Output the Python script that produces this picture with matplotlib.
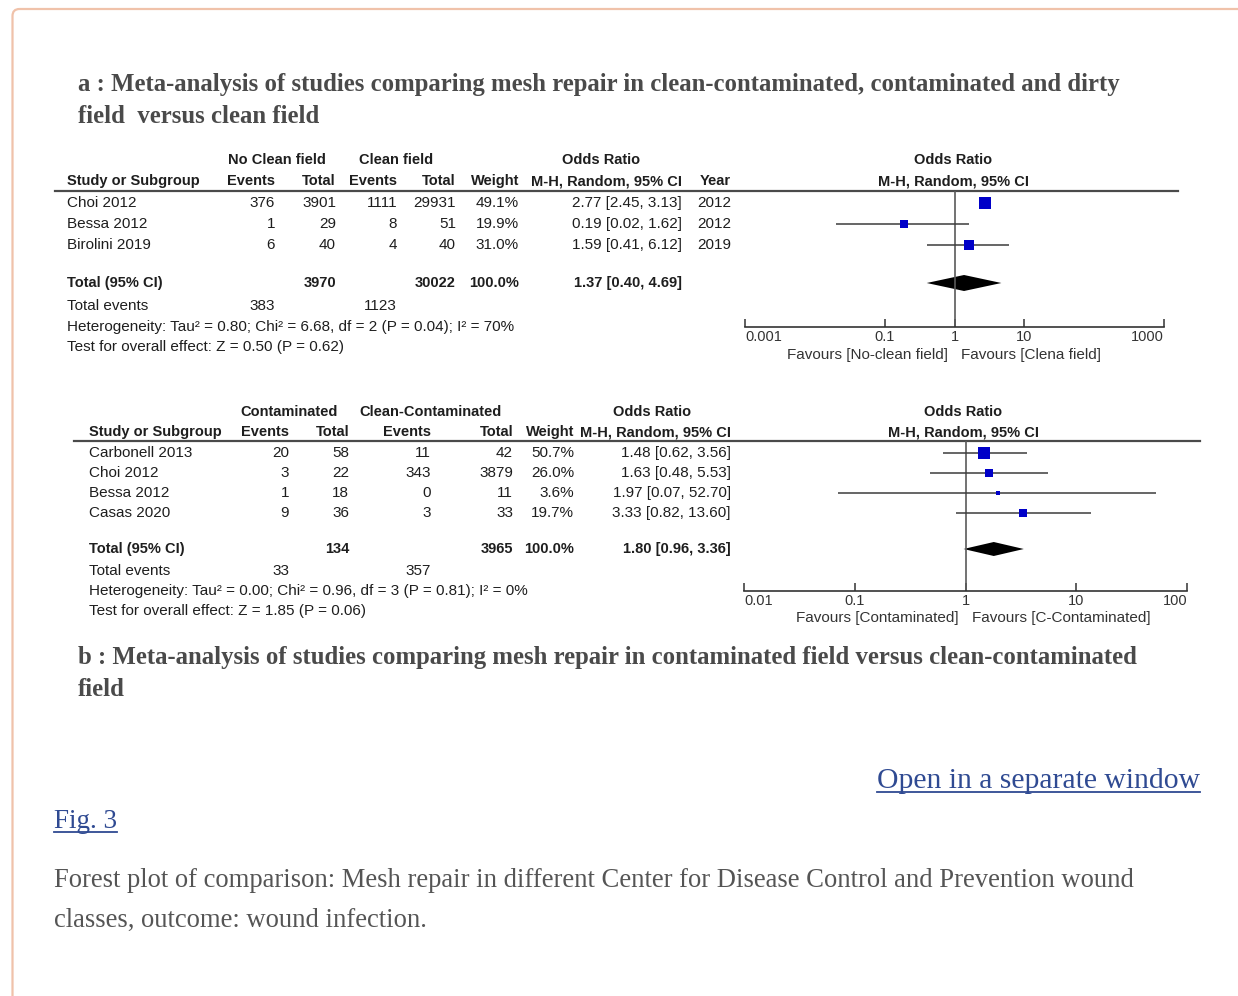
import numpy as np
import matplotlib.pyplot as plt
from matplotlib.patches import FancyBboxPatch

W, H = 1238, 996

# panel a : no clean field vs clean field
a_studies = ["Choi 2012", "Bessa 2012", "Birolini 2019"]
a_ev1 = [376, 1, 6]
a_tot1 = [3901, 29, 40]
a_ev2 = [1111, 8, 4]
a_tot2 = [29931, 51, 40]
a_weight = [49.1, 19.9, 31.0]
a_or = [2.77, 0.19, 1.59]
a_lo = [2.45, 0.02, 0.41]
a_hi = [3.13, 1.62, 6.12]
a_year = [2012, 2012, 2019]
a_totals = [3970, 30022]
a_events = [383, 1123]
a_pooled = [1.37, 0.40, 4.69]
a_groups = ["No Clean field", "Clean field"]
a_het = "Heterogeneity: Tau² = 0.80; Chi² = 6.68, df = 2 (P = 0.04); I² = 70%"
a_test = "Test for overall effect: Z = 0.50 (P = 0.62)"
a_favours = ["Favours [No-clean field]", "Favours [Clena field]"]
a_ticks = [0.001, 0.1, 1, 10, 1000]
a_ticklabels = ["0.001", "0.1", "1", "10", "1000"]

# panel b : contaminated vs clean-contaminated
b_studies = ["Carbonell 2013", "Choi 2012", "Bessa 2012", "Casas 2020"]
b_ev1 = [20, 3, 1, 9]
b_tot1 = [58, 22, 18, 36]
b_ev2 = [11, 343, 0, 3]
b_tot2 = [42, 3879, 11, 33]
b_weight = [50.7, 26.0, 3.6, 19.7]
b_or = [1.48, 1.63, 1.97, 3.33]
b_lo = [0.62, 0.48, 0.07, 0.82]
b_hi = [3.56, 5.53, 52.70, 13.60]
b_totals = [134, 3965]
b_events = [33, 357]
b_pooled = [1.80, 0.96, 3.36]
b_groups = ["Contaminated", "Clean-Contaminated"]
b_het = "Heterogeneity: Tau² = 0.00; Chi² = 0.96, df = 3 (P = 0.81); I² = 0%"
b_test = "Test for overall effect: Z = 1.85 (P = 0.06)"
b_favours = ["Favours [Contaminated]", "Favours [C-Contaminated]"]
b_ticks = [0.01, 0.1, 1, 10, 100]
b_ticklabels = ["0.01", "0.1", "1", "10", "100"]

title_a = ["a : Meta-analysis of studies comparing mesh repair in clean-contaminated, contaminated and dirty",
           "field  versus clean field"]
title_b = ["b : Meta-analysis of studies comparing mesh repair in contaminated field versus clean-contaminated",
           "field"]
caption = ["Forest plot of comparison: Mesh repair in different Center for Disease Control and Prevention wound",
           "classes, outcome: wound infection."]

SANS = "Liberation Sans"
SERIF = "Liberation Serif"
TXT = "#1e1e1e"
FS = 11
FSB = 10.5

fig = plt.figure(figsize=(W / 100, H / 100), dpi=100)
page = fig.add_axes([0, 0, 1, 1])
page.set_xlim(0, W)
page.set_ylim(H, 0)
page.axis("off")

# page frame
page.add_patch(FancyBboxPatch((12.5, 9), W + 40, H + 40,
                              boxstyle="round,pad=0,rounding_size=7",
                              fc="none", ec="#f0c2aa", lw=1.6))


def t(x, y, s, ha="left", bold=False, size=None, color=TXT, family=SANS, va="center"):
    if size is None:
        size = FSB if bold else FS
    return page.text(x, y, s, ha=ha, va=va, fontsize=size, color=color,
                     fontweight="bold" if bold else "normal", family=family)


def ci_text(o, lo, hi):
    return f"{o:.2f} [{lo:.2f}, {hi:.2f}]"


def table(lay, groups, studies, ev1, tot1, ev2, tot2, weight, ors, los, his,
          totals, events, pooled, het, test, year=None):
    x = lay["cols"]
    y1, y2 = lay["head"]
    t(lay["g1"], y1, groups[0], ha="center", bold=True)
    t(lay["g2"], y1, groups[1], ha="center", bold=True)
    t(lay["or"], y1, "Odds Ratio", ha="center", bold=True)
    t(lay["study"], y2, "Study or Subgroup", bold=True)
    heads = ["Events", "Total", "Events", "Total", "Weight", "M-H, Random, 95% CI"]
    for xx, hd in zip(x, heads):
        t(xx, y2, hd, ha="right", bold=True)
    if year is not None:
        t(lay["year"], y2, "Year", ha="right", bold=True)
    page.plot(lay["rule"], [lay["rule_y"]] * 2, color="#4a4a4a", lw=1.6)
    for i, yy in enumerate(lay["rows"]):
        t(lay["study"], yy, studies[i])
        vals = [ev1[i], tot1[i], ev2[i], tot2[i], f"{weight[i]:.1f}%",
                ci_text(ors[i], los[i], his[i])]
        for xx, v in zip(x, vals):
            t(xx, yy, str(v), ha="right")
        if year is not None:
            t(lay["year"], yy, str(year[i]), ha="right")
    yt = lay["total"]
    t(lay["study"], yt, "Total (95% CI)", bold=True)
    t(x[1], yt, str(totals[0]), ha="right", bold=True)
    t(x[3], yt, str(totals[1]), ha="right", bold=True)
    t(x[4], yt, "100.0%", ha="right", bold=True)
    t(x[5], yt, ci_text(*pooled), ha="right", bold=True)
    ye, yh, ys = lay["foot"]
    t(lay["study"], ye, "Total events")
    t(x[0], ye, str(events[0]), ha="right")
    t(x[2], ye, str(events[1]), ha="right")
    t(lay["study"], yh, het)
    t(lay["study"], ys, test)


def forest(box, xlim, ticks, ticklabels, rows, ors, los, his, weight,
           ytot, pooled, favours, fav, hw):
    x0, x1, y0, y1 = box
    ax = fig.add_axes([x0 / W, 1 - y1 / H, (x1 - x0) / W, (y1 - y0) / H])
    ax.patch.set_alpha(0)
    ax.set_xscale("log")
    ax.set_xlim(*xlim)
    ax.set_ylim(y1, y0)
    for s in ["top", "left", "right"]:
        ax.spines[s].set_visible(False)
    ax.spines["bottom"].set_color("#333333")
    ax.spines["bottom"].set_linewidth(1.2)
    ax.set_yticks([])
    ax.set_xticks(ticks)
    ax.set_xticks([], minor=True)
    ax.set_xticklabels(ticklabels, fontsize=10.5, color="#333333", family=SANS)
    ax.tick_params(axis="x", direction="in", length=6, width=1.1,
                   color="#333333", pad=2.5)
    labs = ax.get_xticklabels()
    labs[0].set_ha("left")
    labs[-1].set_ha("right")
    ax.axvline(1, color="#5a5a5a", lw=1.2)
    ax.hlines(rows, los, his, color="#3c3c3c", lw=1.1)
    for yy, o, w in zip(rows, ors, weight):
        ax.plot(o, yy, "s", color="#0000c8", ms=1.25 * np.sqrt(w), mew=0)
    o, lo, hi = pooled
    ax.fill([lo, o, hi, o], [ytot, ytot - hw, ytot, ytot + hw], color="black", lw=0)
    fx, fy = fav
    t(fx - 6, fy, favours[0], ha="right", size=11, color="#333333")
    t(fx + 7, fy, favours[1], ha="left", size=11, color="#333333")
    return ax


# titles
for i, line in enumerate(title_a):
    t(78, 84 + 32 * i, line, bold=True, size=17.8, color="#4a4a4a", family=SERIF)
for i, line in enumerate(title_b):
    t(78, 657 + 32 * i, line, bold=True, size=17.8, color="#4a4a4a", family=SERIF)

lay_a = dict(cols=[275, 336, 397, 456, 519, 682], year=731, head=(160, 181),
             g1=277, g2=396, study=67, rule=[55, 1178], rule_y=191,
             rows=[203, 224, 245], total=283, foot=(306, 327, 347))
lay_a["or"] = 601
lay_b = dict(cols=[289, 349, 431, 513, 574, 731], head=(412, 432),
             g1=289, g2=431, study=89, rule=[74, 1200], rule_y=441,
             rows=[453, 473, 493, 513], total=549, foot=(571, 591, 611))
lay_b["or"] = 652

table(lay_a, a_groups, a_studies, a_ev1, a_tot1, a_ev2, a_tot2, a_weight, a_or,
      a_lo, a_hi, a_totals, a_events, a_pooled, a_het, a_test, year=a_year)
table(lay_b, b_groups, b_studies, b_ev1, b_tot1, b_ev2, b_tot2, b_weight, b_or,
      b_lo, b_hi, b_totals, b_events, b_pooled, b_het, b_test)

t(953, 160, "Odds Ratio", ha="center", bold=True)
t(953, 181, "M-H, Random, 95% CI", ha="center", bold=True)
t(963, 412, "Odds Ratio", ha="center", bold=True)
t(963, 432, "M-H, Random, 95% CI", ha="center", bold=True)

forest((745, 1164, 191, 327), (0.001, 1000), a_ticks, a_ticklabels,
       lay_a["rows"], a_or, a_lo, a_hi, a_weight, lay_a["total"], a_pooled,
       a_favours, (954, 355), 8)
forest((744, 1187, 441, 591), (0.01, 100), b_ticks, b_ticklabels,
       lay_b["rows"], b_or, b_lo, b_hi, b_weight, lay_b["total"], b_pooled,
       b_favours, (965, 618), 7)

# links and caption
LINK = "#2f4a92"
links = [t(1200, 788, "Open in a separate window", ha="right", size=21.3,
           color=LINK, family=SERIF, va="baseline"),
         t(54, 828, "Fig. 3", size=19.5, color=LINK, family=SERIF, va="baseline")]
for i, line in enumerate(caption):
    t(54, 880 + 40 * i, line, size=19.2, color="#555555", family=SERIF)

fig.canvas.draw()
for lk in links:
    bb = lk.get_window_extent()
    yb = lk.get_position()[1] + 4
    page.plot([bb.x0, bb.x1], [yb, yb], color=LINK, lw=1.3)

fig.savefig("out.png", dpi=100)
